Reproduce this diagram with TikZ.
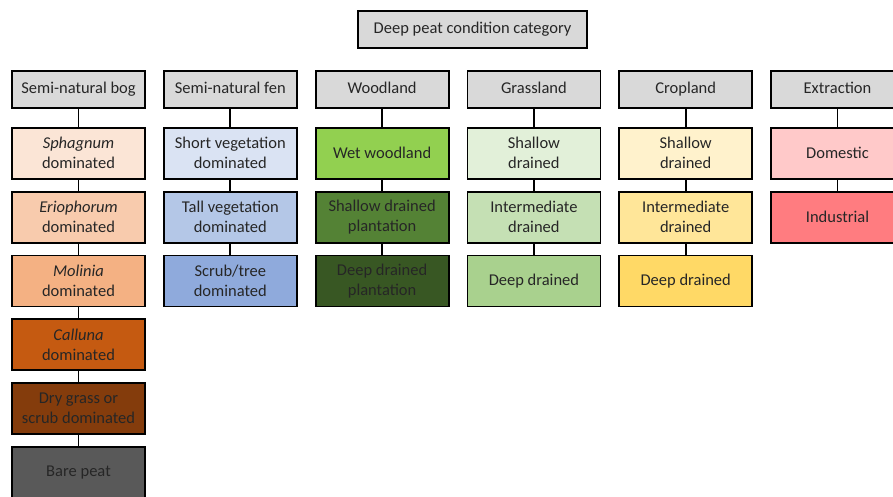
\documentclass[tikz,border=0pt]{standalone}
\usepackage{fontspec}
\setmainfont{Carlito}
\usepackage{xcolor}
\usetikzlibrary{positioning}

\definecolor{hdr}{HTML}{D9D9D9}
\definecolor{txt}{HTML}{262626}
% bog
\definecolor{bogA}{HTML}{FBE5D6}
\definecolor{bogB}{HTML}{F8CBAD}
\definecolor{bogC}{HTML}{F4B183}
\definecolor{bogD}{HTML}{C55A11}
\definecolor{bogE}{HTML}{843C0C}
\definecolor{bogF}{HTML}{595959}
% fen
\definecolor{fenA}{HTML}{DAE3F3}
\definecolor{fenB}{HTML}{B4C7E7}
\definecolor{fenC}{HTML}{8FAADC}
% woodland
\definecolor{woodA}{HTML}{92D050}
\definecolor{woodB}{HTML}{548235}
\definecolor{woodC}{HTML}{385723}
% grassland
\definecolor{grassA}{HTML}{E2F0D9}
\definecolor{grassB}{HTML}{C5E0B4}
\definecolor{grassC}{HTML}{A9D18E}
% cropland
\definecolor{cropA}{HTML}{FFF2CC}
\definecolor{cropB}{HTML}{FFE699}
\definecolor{cropC}{HTML}{FFD966}
% extraction
\definecolor{extrA}{HTML}{FFC9C9}
\definecolor{extrB}{HTML}{FF7C80}

\begin{document}
\begin{tikzpicture}[
x=1pt, y=1pt,
cat/.style={draw, line width=1.8pt, fill=hdr, text=txt, inner sep=2pt, minimum width=133pt, minimum height=37pt, align=center, font=\fontsize{16.5}{20}\selectfont},
head/.style={cat, execute at begin node=\strut},
sub/.style={cat, minimum height=51pt},
link/.style={line width=1.8pt}
]
\useasboundingbox (0,0) rectangle (893,-497);

% Top node
\node[head, minimum width=229pt] (top) at (472.5,-29.5) {Deep peat condition category};

% Land use headers
\node[head] (bog) at (78.5,-89.5) {Semi-natural bog};
\node[head, right=17pt of bog] (fen) {Semi-natural fen};
\node[head, right=17pt of fen] (wood) {Woodland};
\node[head, right=17pt of wood] (grass) {Grassland};
\node[head, right=17pt of grass] (crop) {Cropland};
\node[head, right=17pt of crop] (extr) {Extraction};

% Semi-natural bog
\node[sub, fill=bogA, below=18pt of bog] (sphag) {\textit{Sphagnum}\\dominated};
\node[sub, fill=bogB, below=11pt of sphag] (erio) {\textit{Eriophorum}\\dominated};
\node[sub, fill=bogC, below=11pt of erio] (moli) {\textit{Molinia}\\dominated};
\node[sub, fill=bogD, below=11pt of moli] (call) {\textit{Calluna}\\dominated};
\node[sub, fill=bogE, below=11pt of call] (drygr) {Dry grass or\\scrub dominated};
\node[sub, fill=bogF, below=11pt of drygr] (bare) {Bare peat};

% Semi-natural fen
\node[sub, fill=fenA, below=18pt of fen] (shortv) {Short vegetation\\dominated};
\node[sub, fill=fenB, below=11pt of shortv] (tallv) {Tall vegetation\\dominated};
\node[sub, fill=fenC, below=11pt of tallv] (scrub) {Scrub/tree\\dominated};

% Woodland
\node[sub, fill=woodA, below=18pt of wood] (wetw) {Wet woodland};
\node[sub, fill=woodB, below=11pt of wetw] (shplant) {Shallow drained\\plantation};
\node[sub, fill=woodC, below=11pt of shplant] (dpplant) {Deep drained\\plantation};

% Grassland
\node[sub, fill=grassA, below=18pt of grass] (grsh) {Shallow\\drained};
\node[sub, fill=grassB, below=11pt of grsh] (grint) {Intermediate\\drained};
\node[sub, fill=grassC, below=11pt of grint] (grdp) {Deep drained};

% Cropland
\node[sub, fill=cropA, below=18pt of crop] (crsh) {Shallow\\drained};
\node[sub, fill=cropB, below=11pt of crsh] (crint) {Intermediate\\drained};
\node[sub, fill=cropC, below=11pt of crint] (crdp) {Deep drained};

% Extraction
\node[sub, fill=extrA, below=18pt of extr] (dom) {Domestic};
\node[sub, fill=extrB, below=11pt of dom] (ind) {Industrial};

% Connectors
\draw[link] (bog) -- (sphag) -- (erio) -- (moli) -- (call) -- (drygr) -- (bare);
\draw[link] (fen) -- (shortv) -- (tallv) -- (scrub);
\draw[link] (wood) -- (wetw) -- (shplant) -- (dpplant);
\draw[link] (grass) -- (grsh) -- (grint) -- (grdp);
\draw[link] (crop) -- (crsh) -- (crint) -- (crdp);
\draw[link] (extr) -- (dom) -- (ind);

\end{tikzpicture}
\end{document}
